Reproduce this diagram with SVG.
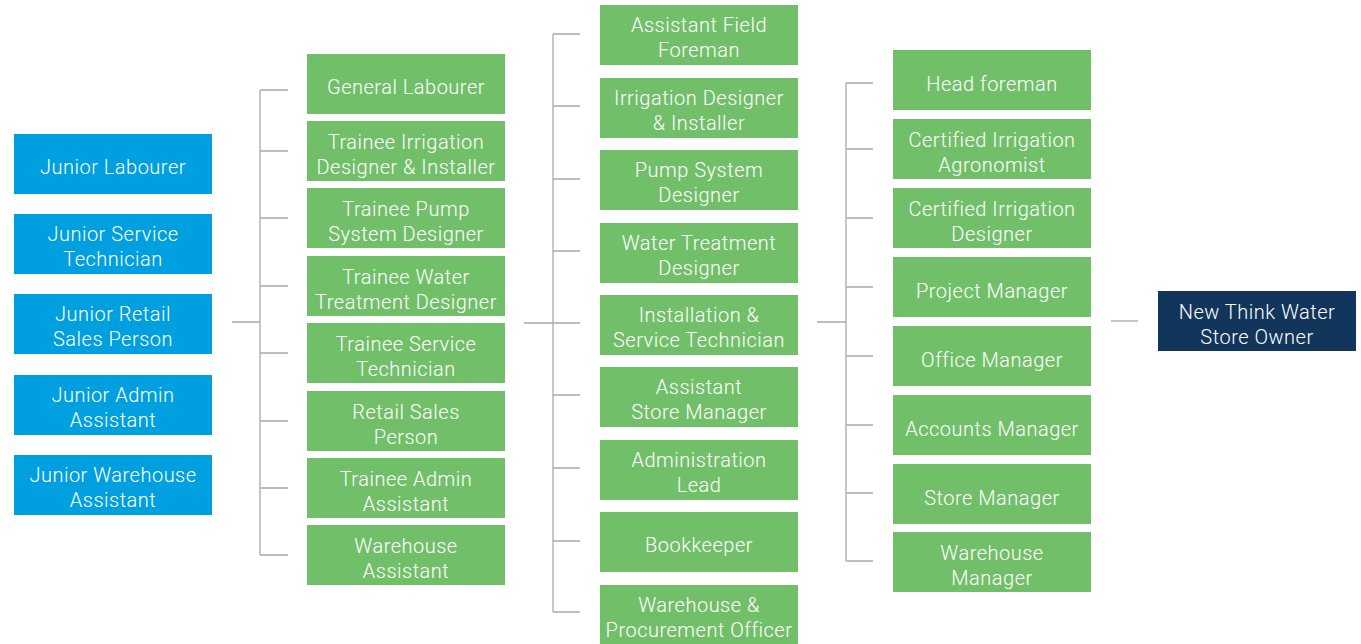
<svg xmlns="http://www.w3.org/2000/svg" width="1361" height="644" viewBox="0 0 1361 644">
<style>
.b{fill:#009fdf}
.g{fill:#72bf6a}
.n{fill:#12355b}
text{font-family:Roboto,"Liberation Sans",sans-serif;font-size:20px;font-weight:300;fill:#ffffff;text-anchor:middle;letter-spacing:0.5px}
.c path{stroke:#a7a9ac;stroke-width:1.3;fill:none}
</style>
<rect width="1361" height="644" fill="#ffffff"/>
<g class="c" id="connectors">
<path d="M232 322H260M260 90V555M260 90H288M260 151H288M260 218H288M260 286H288M260 353H288M260 421H288M260 488H288M260 555H288"/>
<path d="M524 323H553M553 34V612M553 34H580M553 106H580M553 179H580M553 251H580M553 323H580M553 395H580M553 468H580M553 541H580M553 612H580"/>
<path d="M817 322H846M846 83V561M846 83H873M846 149H873M846 218H873M846 287H873M846 356H873M846 425H873M846 493H873M846 561H873"/>
<path d="M1111 321H1138"/>
</g>
<g id="n1"><rect class="b" x="14" y="134" width="198" height="60"/><text x="113" y="174">Junior Labourer</text></g>
<g id="n2"><rect class="b" x="14" y="214" width="198" height="60"/><text x="113" y="241">Junior Service</text><text x="113" y="266">Technician</text></g>
<g id="n3"><rect class="b" x="14" y="294" width="198" height="60"/><text x="113" y="321">Junior Retail</text><text x="113" y="346">Sales Person</text></g>
<g id="n4"><rect class="b" x="14" y="375" width="198" height="60"/><text x="113" y="402">Junior Admin</text><text x="113" y="427">Assistant</text></g>
<g id="n5"><rect class="b" x="14" y="455" width="198" height="60"/><text x="113" y="482">Junior Warehouse</text><text x="113" y="507">Assistant</text></g>

<g id="t1"><rect class="g" x="307" y="54" width="198" height="60"/><text x="406" y="94">General Labourer</text></g>
<g id="t2"><rect class="g" x="307" y="121" width="198" height="60"/><text x="406" y="149">Trainee Irrigation</text><text x="406" y="174">Designer &amp; Installer</text></g>
<g id="t3"><rect class="g" x="307" y="188" width="198" height="60"/><text x="406" y="216">Trainee Pump</text><text x="406" y="241">System Designer</text></g>
<g id="t4"><rect class="g" x="307" y="256" width="198" height="60"/><text x="406" y="284">Trainee Water</text><text x="406" y="309">Treatment Designer</text></g>
<g id="t5"><rect class="g" x="307" y="323" width="198" height="60"/><text x="406" y="351">Trainee Service</text><text x="406" y="376">Technician</text></g>
<g id="t6"><rect class="g" x="307" y="391" width="198" height="60"/><text x="406" y="419">Retail Sales</text><text x="406" y="444">Person</text></g>
<g id="t7"><rect class="g" x="307" y="458" width="198" height="60"/><text x="406" y="486">Trainee Admin</text><text x="406" y="511">Assistant</text></g>
<g id="t8"><rect class="g" x="307" y="525" width="198" height="60"/><text x="406" y="553">Warehouse</text><text x="406" y="578">Assistant</text></g>

<g id="m1"><rect class="g" x="600" y="5" width="198" height="60"/><text x="699" y="32">Assistant Field</text><text x="699" y="57">Foreman</text></g>
<g id="m2"><rect class="g" x="600" y="78" width="198" height="60"/><text x="699" y="105">Irrigation Designer</text><text x="699" y="130">&amp; Installer</text></g>
<g id="m3"><rect class="g" x="600" y="150" width="198" height="60"/><text x="699" y="177">Pump System</text><text x="699" y="202">Designer</text></g>
<g id="m4"><rect class="g" x="600" y="223" width="198" height="60"/><text x="699" y="250">Water Treatment</text><text x="699" y="275">Designer</text></g>
<g id="m5"><rect class="g" x="600" y="295" width="198" height="60"/><text x="699" y="322">Installation &amp;</text><text x="699" y="347">Service Technician</text></g>
<g id="m6"><rect class="g" x="600" y="367" width="198" height="60"/><text x="699" y="394">Assistant</text><text x="699" y="419">Store Manager</text></g>
<g id="m7"><rect class="g" x="600" y="440" width="198" height="60"/><text x="699" y="467">Administration</text><text x="699" y="492">Lead</text></g>
<g id="m8"><rect class="g" x="600" y="512" width="198" height="60"/><text x="699" y="552">Bookkeeper</text></g>
<g id="m9"><rect class="g" x="600" y="585" width="198" height="60"/><text x="699" y="612">Warehouse &amp;</text><text x="699" y="637">Procurement Officer</text></g>

<g id="s1"><rect class="g" x="893" y="50" width="198" height="60"/><text x="992" y="91">Head foreman</text></g>
<g id="s2"><rect class="g" x="893" y="119" width="198" height="60"/><text x="992" y="147">Certified Irrigation</text><text x="992" y="172">Agronomist</text></g>
<g id="s3"><rect class="g" x="893" y="188" width="198" height="60"/><text x="992" y="216">Certified Irrigation</text><text x="992" y="241">Designer</text></g>
<g id="s4"><rect class="g" x="893" y="257" width="198" height="60"/><text x="992" y="298">Project Manager</text></g>
<g id="s5"><rect class="g" x="893" y="326" width="198" height="60"/><text x="992" y="367">Office Manager</text></g>
<g id="s6"><rect class="g" x="893" y="395" width="198" height="60"/><text x="992" y="436">Accounts Manager</text></g>
<g id="s7"><rect class="g" x="893" y="464" width="198" height="60"/><text x="992" y="505">Store Manager</text></g>
<g id="s8"><rect class="g" x="893" y="532" width="198" height="60"/><text x="992" y="560">Warehouse</text><text x="992" y="585">Manager</text></g>

<g id="owner"><rect class="n" x="1158" y="291" width="198" height="60"/><text x="1257" y="319">New Think Water</text><text x="1257" y="344">Store Owner</text></g>
</svg>
